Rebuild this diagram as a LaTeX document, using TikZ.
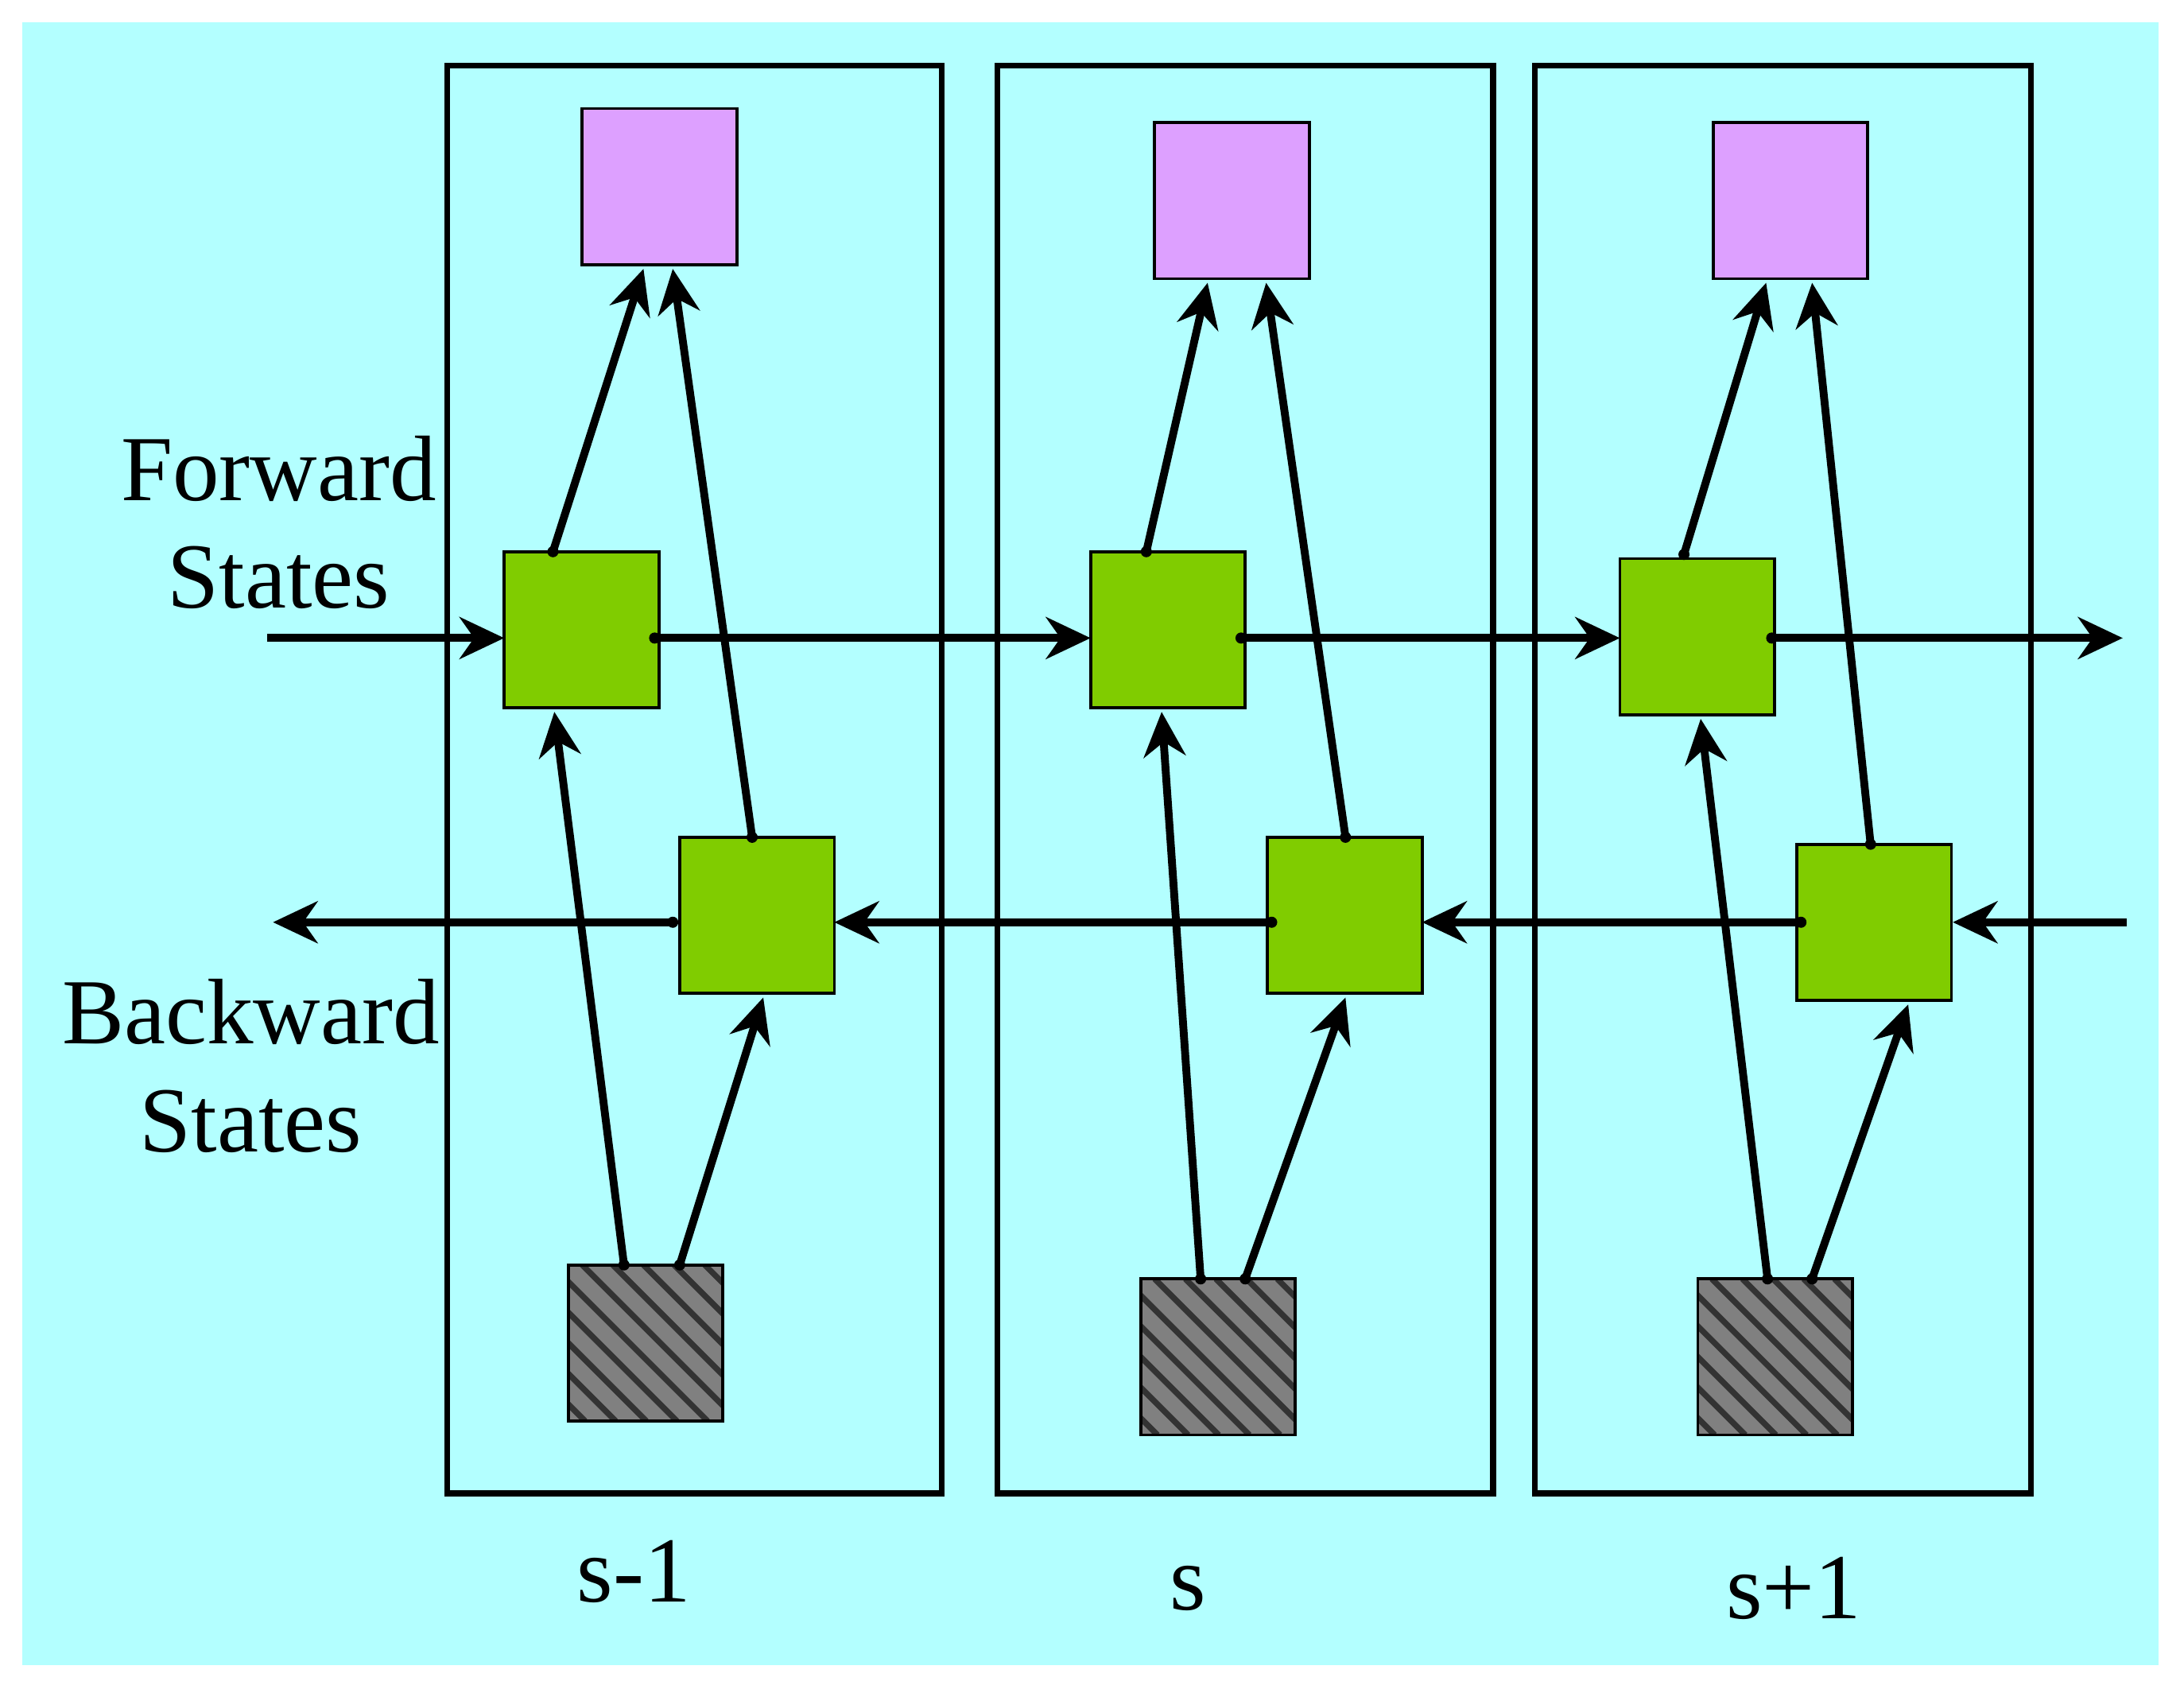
\documentclass[tikz,border=0pt]{standalone}
\usepackage{fontspec}
\setmainfont{Liberation Serif}
\usetikzlibrary{arrows.meta}
\definecolor{bg}{HTML}{B3FFFF}
\definecolor{pur}{HTML}{DDA0FF}
\definecolor{grn}{HTML}{80CC00}
\begin{document}
\begin{tikzpicture}[x=0.01cm,y=-0.01cm,
  frame/.style={draw=black,line width=1.2pt},
  box/.style={draw=black,line width=0.6pt},
  arr/.style={line width=1.6pt,-{Stealth[length=0.32cm,width=0.3cm]}},
  lab/.style={font=\fontsize{19}{22}\selectfont,align=center}]
\useasboundingbox (0,0) rectangle (1568,1212);
\fill[bg] (16,16) rectangle (1550,1195);
\draw[frame] (321,47) rectangle (676,1072);
\draw[frame] (716,47) rectangle (1072,1072);
\draw[frame] (1102,47) rectangle (1458,1072);
% boxes
\foreach \n/\x/\y in {p1/418/78,p2/829/88,p3/1230/88}
  \draw[box,fill=pur] (\x,\y) rectangle ++(111,112) coordinate (\n);
\foreach \n/\x/\y in {f1/362/396,f2/783/396,f3/1163/401,b1/488/601,b2/910/601,b3/1290/606}
  \draw[box,fill=grn] (\x,\y) rectangle ++(111,112);
\foreach \x/\y in {408/908,819/918,1219/918}{
  \begin{scope}
  \clip (\x,\y) rectangle ++(111,112);
  \fill[gray] (\x,\y) rectangle ++(111,112);
  \foreach \k in {-100,-78,...,120}
    \draw[black!80,line width=1.2pt] (\x+\k,\y) -- ++(112,112);
  \end{scope}
  \draw[box] (\x,\y) rectangle ++(111,112);}
% nodes for connector endpoints
\foreach \n/\x/\y in {a1/397/396,a2/462/193,a3/540/601,a4/483/193,a5/448/908,a6/398/511,a7/488/908,a8/548/716,
 c1/823/396,c2/867/203,c3/966/601,c4/909/203,c5/862/918,c6/834/511,c7/894/918,c8/966/716,
 d1/1209/398,d2/1268/203,d3/1343/606,d4/1301/203,d5/1269/918,d6/1221/516,d7/1301/918,d8/1370/721,
 h0/192/458,h1/362/458,h2/470/458,h3/783/458,h4/891/458,h5/1163/458,h6/1272/458,h7/1524/458,
 k0/1527/662,k1/1402/662,k2/1293/662,k3/1021/662,k4/913/662,k5/599/662,k6/483/662,k7/196/662}
  \coordinate (\n) at (\x,\y);
\foreach \s/\e in {a1/a2,a3/a4,a5/a6,a7/a8,c1/c2,c3/c4,c5/c6,c7/c8,d1/d2,d3/d4,d5/d6,d7/d8,
 h0/h1,h2/h3,h4/h5,h6/h7,k0/k1,k2/k3,k4/k5,k6/k7}
  \draw[arr] (\s) -- (\e);
\foreach \s in {a1,a3,a5,a7,c1,c3,c5,c7,d1,d3,d5,d7,h2,h4,h6,k2,k4,k6}
  \fill (\s) circle (4);
\node[lab] (fw) at (200,375) {Forward\\States};
\node[lab] (bw) at (180,765) {Backward\\States};
\node[lab] (l1) at (455,1128) {s-1};
\node[lab] (l2) at (853,1140) {s};
\node[lab] (l3) at (1288,1140) {s+1};
\end{tikzpicture}
\end{document}
